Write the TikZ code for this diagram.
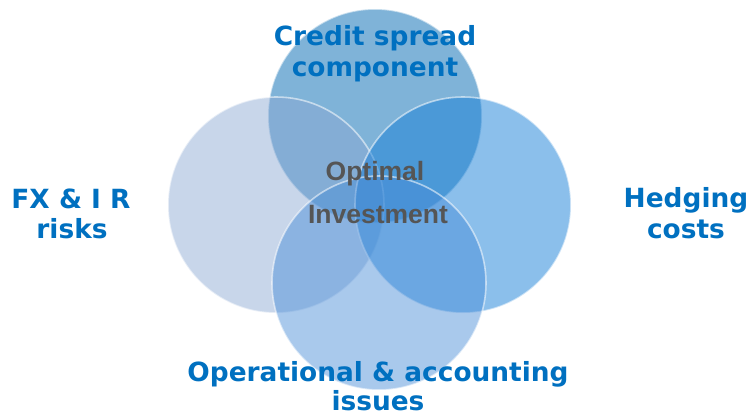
\documentclass[tikz,border=0pt]{standalone}
\usepackage{fontspec}
\newfontfamily\labelfont{DejaVu Sans}
\newfontfamily\centerfont{Liberation Sans}
\definecolor{topblue}{RGB}{42,128,190}
\definecolor{leftblue}{RGB}{138,168,211}
\definecolor{rightblue}{RGB}{23,127,215}
\definecolor{bottomblue}{RGB}{72,140,215}
\definecolor{labelblue}{RGB}{0,112,192}
\definecolor{centergrey}{RGB}{85,85,85}
\begin{document}
\begin{tikzpicture}[x=1pt,y=-1pt,
  petal/.style={draw=white, draw opacity=0.55, line width=1.6pt},
  outerlabel/.style={anchor=base, inner sep=0pt, text=labelblue,
    font=\labelfont\bfseries\fontsize{26.4}{31}\selectfont},
  centerlabel/.style={anchor=base, inner sep=0pt, text=centergrey,
    font=\centerfont\bfseries\fontsize{26.5}{31}\selectfont}]
\useasboundingbox (0,0) rectangle (750,415);

% four overlapping translucent circles
\fill[topblue, fill opacity=0.6] (375,116) circle[radius=107pt];
\draw[petal] (375,116) circle[radius=107pt];
\fill[leftblue, fill opacity=0.47] (276,205) circle[radius=108pt];
\draw[petal] (276,205) circle[radius=108pt];
\fill[rightblue, fill opacity=0.5] (463,205) circle[radius=108pt];
\draw[petal] (463,205) circle[radius=108pt];
\fill[bottomblue, fill opacity=0.47] (379,283) circle[radius=107pt];
\draw[petal] (379,283) circle[radius=107pt];

% labels
\node[outerlabel] (credit1) at (375,45) {Credit spread};
\node[outerlabel] (credit2) at (375,76) {component};
\node[outerlabel] (fx1) at (71,208) {FX \& I R};
\node[outerlabel] (fx2) at (72,238) {risks};
\node[outerlabel] (hedge1) at (686,207) {Hedging};
\node[outerlabel] (hedge2) at (686,238) {costs};
\node[outerlabel] (oper1) at (378,381) {Operational \& accounting};
\node[outerlabel] (oper2) at (378,410) {issues};
\node[centerlabel] (opt1) at (375,180) {Optimal};
\node[centerlabel] (opt2) at (378,223) {Investment};
\end{tikzpicture}
\end{document}
